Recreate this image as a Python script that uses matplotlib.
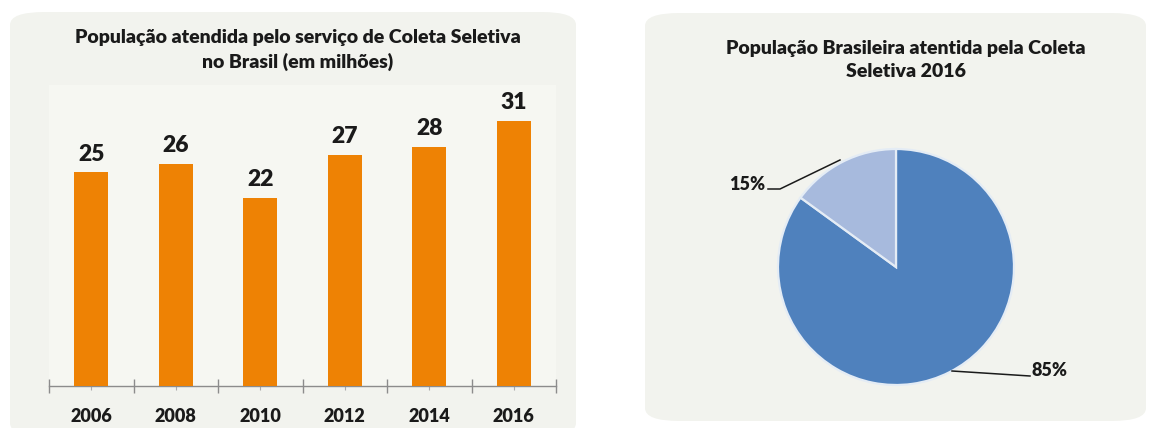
import matplotlib
matplotlib.use("Agg")
import matplotlib.pyplot as plt
from matplotlib.patches import FancyBboxPatch

# Data
years = ["2006", "2008", "2010", "2012", "2014", "2016"]
populacao = [25, 26, 22, 27, 28, 31]
pie_labels = ["85%", "15%"]
pie_values = [85, 15]

W, H = 1157, 428
plt.rcParams['font.family'] = ['Lato', 'DejaVu Sans']
fig = plt.figure(figsize=(W / 100, H / 100), dpi=100, facecolor='white')

def fx(px):
    return px / W

def fy(py):
    return 1 - py / H

panel_color = '#f2f3ee'
# background panels
for (x0, y0, x1, y1) in [(10, 12, 576, 436), (645, 13, 1146, 421)]:
    p = FancyBboxPatch((fx(x0), fy(y1)), fx(x1 - x0), (y1 - y0) / H,
                       boxstyle="round,pad=0,rounding_size=0.03",
                       transform=fig.transFigure, facecolor=panel_color,
                       edgecolor='none', zorder=-10)
    fig.patches.append(p)

# ---- Bar chart ----
ax_l, ax_r, ax_t, ax_b = 49, 556, 85, 386
ax = fig.add_axes([fx(ax_l), fy(ax_b), fx(ax_r - ax_l), (ax_b - ax_t) / H])
ax.set_facecolor('#f6f7f2')
x = list(range(len(years)))
bars = ax.bar(x, populacao, width=0.4, color='#ee8204', zorder=3)
ax.set_xlim(-0.5, len(years) - 0.5)
ax.set_ylim(0, 35.2)
for xi, v in zip(x, populacao):
    ax.text(xi, v + 0.9, str(v), ha='center', va='bottom', fontsize=16.5,
            fontweight='heavy', color='#1a1a1a')
for s in ['top', 'right', 'left']:
    ax.spines[s].set_visible(False)
ax.spines['bottom'].set_color('#8c8c8c')
ax.spines['bottom'].set_linewidth(1.0)
ax.set_yticks([])
ax.set_xticks(x)
ax.set_xticklabels(years, fontsize=13, fontweight='heavy', color='#1a1a1a')
ax.tick_params(axis='x', which='major', length=3, direction='out', color='#aaaaaa', pad=13)
ax.set_xticks([i - 0.5 for i in range(len(years) + 1)], minor=True)
ax.tick_params(axis='x', which='minor', length=10, direction='inout', color='#8c8c8c', width=1.0)

fig.text(fx(298), fy(50), "População atendida pelo serviço de Coleta Seletiva\nno Brasil (em milhões)",
         ha='center', va='center', fontsize=14, fontweight='heavy', color='#1a1a1a',
         linespacing=1.4)

# ---- Pie chart ----
cx, cy, r = 896, 267, 118
pax = fig.add_axes([fx(cx - r), fy(cy + r), fx(2 * r), 2 * r / H])
pax.set_facecolor('none')
wedges, _ = pax.pie(pie_values, colors=['#4f81bd', '#a7badd'], startangle=90,
                    counterclock=False,
                    wedgeprops=dict(edgecolor='#e4ecf5', linewidth=1.6))
pax.set_xlim(-1, 1)
pax.set_ylim(-1, 1)
pax.set_aspect('auto')

def to_pax(px, py):
    return ((px - cx) / r, (cy - py) / r)

# 15% label
pax.text(*to_pax(747, 184), pie_labels[1], ha='center', va='center',
         fontsize=13, fontweight='heavy', color='#1a1a1a')
pax.plot([to_pax(768, 189)[0], to_pax(780, 189)[0], to_pax(840, 160)[0]],
         [to_pax(768, 189)[1], to_pax(780, 189)[1], to_pax(840, 160)[1]],
         color='#1a1a1a', lw=1.1, clip_on=False)
# 85% label
pax.text(*to_pax(1050, 370), pie_labels[0], ha='center', va='center', fontsize=13,
         fontweight='heavy', color='#1a1a1a')
pax.plot([to_pax(952, 371)[0], to_pax(1030, 376)[0]],
         [to_pax(952, 371)[1], to_pax(1030, 376)[1]],
         color='#1a1a1a', lw=1.1, clip_on=False)

fig.text(fx(906), fy(60), "População Brasileira atentida pela Coleta\nSeletiva 2016",
         ha='center', va='center', fontsize=14, fontweight='heavy', color='#1a1a1a',
         linespacing=1.4)

fig.savefig('out.png', dpi=100, facecolor='white')
